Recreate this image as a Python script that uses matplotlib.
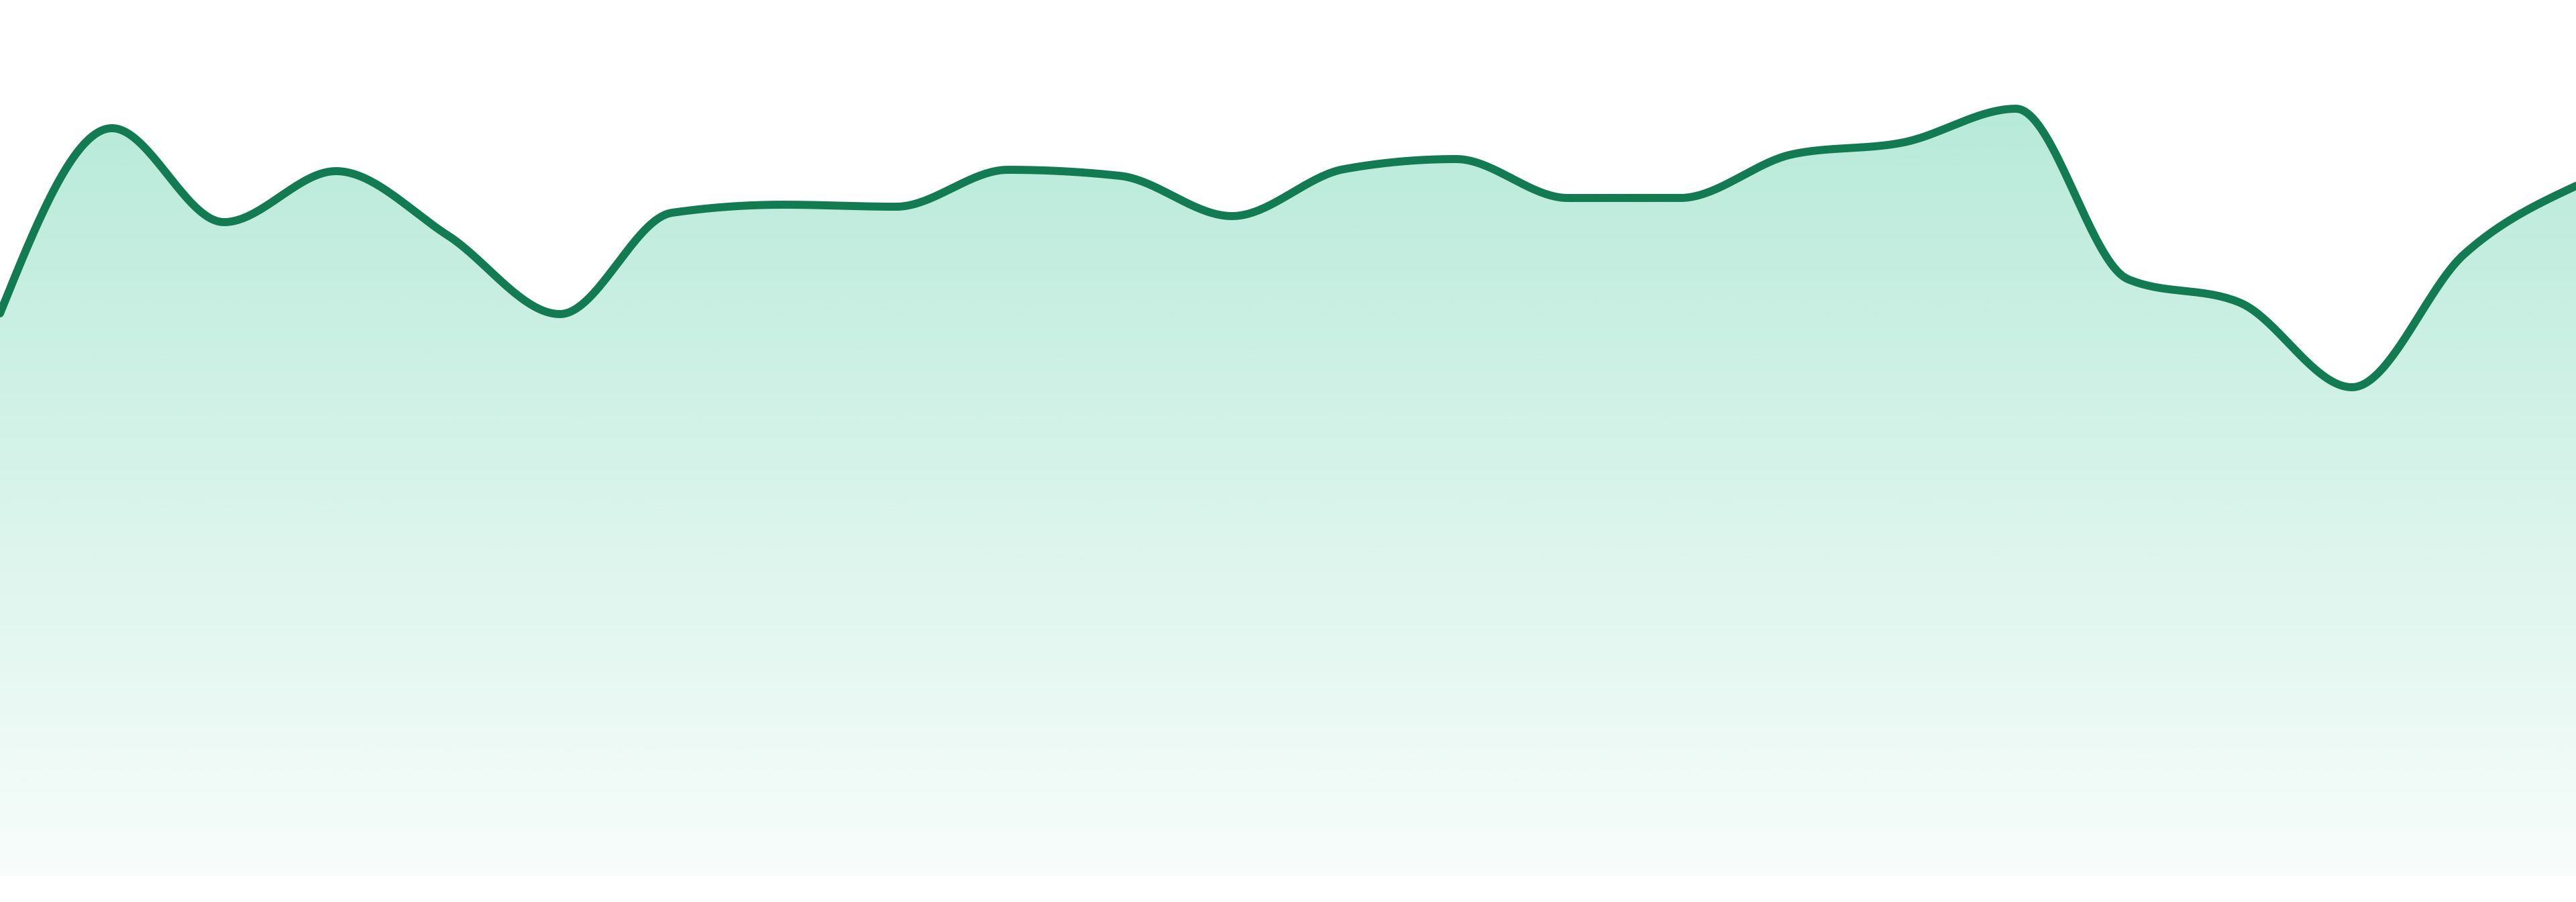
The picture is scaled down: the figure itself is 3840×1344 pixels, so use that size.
import numpy as np
import matplotlib
matplotlib.use("Agg")
import matplotlib.pyplot as plt

# one value per step
steps = np.arange(24)
values = [83.8, 111.4, 97.4, 105.0, 95.4, 83.7, 98.8, 100.0, 99.7, 105.2,
          104.3, 98.3, 105.3, 106.8, 101.0, 101.0, 107.5, 109.3, 114.3, 88.9,
          85.4, 72.8, 92.6, 102.8]

line_color = "#127b52"
fill_color = "#10b981"


def monotone_x(x, y, n=40):
    # same idea as d3.curveMonotoneX (Fritsch-Carlson style tangents)
    x = np.asarray(x, float)
    y = np.asarray(y, float)
    h = np.diff(x)
    s = np.diff(y) / h
    m = np.zeros_like(y)
    for i in range(1, len(y) - 1):
        p = (s[i - 1] * h[i] + s[i] * h[i - 1]) / (h[i - 1] + h[i])
        m[i] = (np.sign(s[i - 1]) + np.sign(s[i])) * min(abs(s[i - 1]), abs(s[i]), 0.5 * abs(p))
    m[0] = (3 * s[0] - m[1]) / 2
    m[-1] = (3 * s[-1] - m[-2]) / 2
    xs, ys = [], []
    for i in range(len(h)):
        t = np.linspace(0, 1, n, endpoint=False)
        h00 = 2 * t**3 - 3 * t**2 + 1
        h10 = t**3 - 2 * t**2 + t
        h01 = -2 * t**3 + 3 * t**2
        h11 = t**3 - t**2
        xs.append(x[i] + t * h[i])
        ys.append(h00 * y[i] + h10 * h[i] * m[i] + h01 * y[i + 1] + h11 * h[i] * m[i + 1])
    xs.append([x[-1]])
    ys.append([y[-1]])
    return np.concatenate(xs), np.concatenate(ys)


xs, ys = monotone_x(steps, values)

fig = plt.figure(figsize=(38.4, 13.44), dpi=100)
ax = fig.add_axes([0, 39 / 1344, 1, 1305 / 1344])
ax.set_xlim(0, 23)
ax.set_ylim(0, 130.5)
ax.axis("off")

# gradient fill under the curve: strong near the top, fading to the baseline
top = max(values)
rgba = np.zeros((256, 1, 4))
rgba[..., :3] = matplotlib.colors.to_rgb(fill_color)
rgba[..., 3] = np.linspace(0.03, 0.3, 256).reshape(-1, 1)
area = ax.fill_between(xs, ys, 0, color="none", lw=0)
img = ax.imshow(rgba, extent=[0, 23, 0, top], origin="lower",
                aspect="auto", interpolation="bilinear", zorder=1)
img.set_clip_path(area.get_paths()[0], transform=ax.transData)

ax.plot(xs, ys, color=line_color, lw=8.6, solid_capstyle="round",
        solid_joinstyle="round", zorder=2)

fig.savefig("out.png", dpi=100)
